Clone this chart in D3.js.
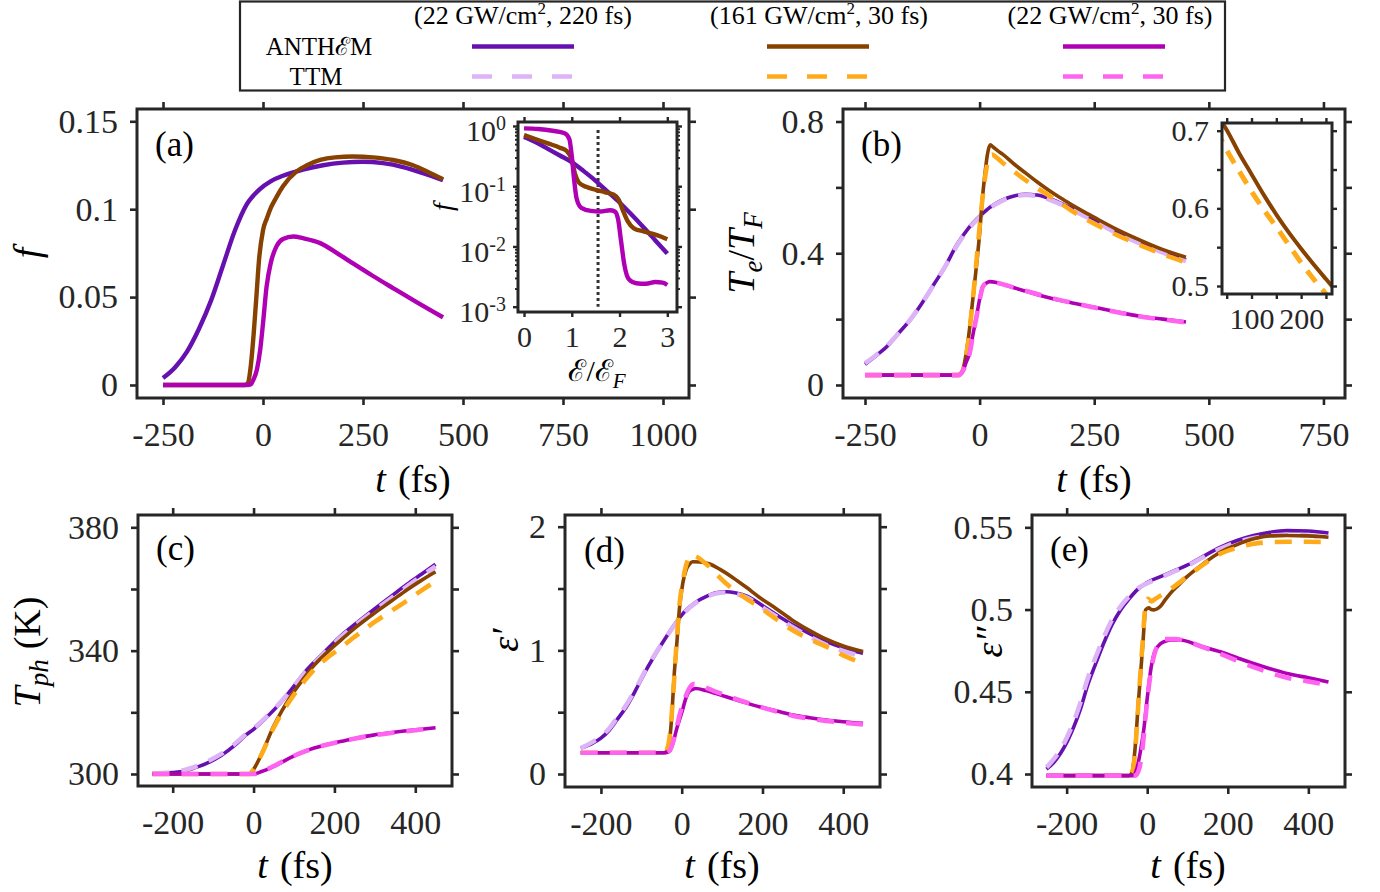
<!DOCTYPE html>
<html>
<head>
<meta charset="utf-8">
<script src="https://cdn.jsdelivr.net/npm/d3@7"></script>
<style>
  body { margin: 0; background: #fff; }
  svg { display: block; }
</style>
</head>
<body>
<script>
// ---------------- data ----------------
// pump cases: intensity (GW/cm^2) and pulse duration (fs)
const caseIntensity = ["22", "161", "22"];
const caseDuration = ["220", "30", "30"];
const modelNames = ["ANTH\u2130M", "TTM"];

// tick values
const tTicksTop = [-250, 0, 250, 500, 750, 1000];
const tTicksB = [-250, 0, 250, 500, 750];
const tTicksBottom = [-200, 0, 200, 400];
const fTicks = [0, 0.05, 0.1, 0.15];
const teTicks = [0, 0.2, 0.4, 0.6, 0.8];
const teLabels = [0, 0.4, 0.8];
const tphTicks = [300, 320, 340, 360, 380];
const tphLabels = [300, 340, 380];
const epsReTicks = [0, 0.5, 1, 1.5, 2];
const epsReLabels = [0, 1, 2];
const epsImTicks = [0.4, 0.45, 0.5, 0.55];
const energyTicks = [0, 1, 2, 3];
const distTicks = [1, 0.1, 0.01, 0.001];
const zoomTTicks = [50, 100, 150, 200, 250];
const zoomTLabels = [100, 200];
const zoomTeTicks = [0.5, 0.55, 0.6, 0.65, 0.7];
const zoomTeLabels = [0.5, 0.6, 0.7];
const fermiMarker = 1.55;

// (a) excited fraction f(t), ANTHEM only
const fA220 = [[-250,0.004],[-220,0.010],[-190,0.019],[-160,0.032],[-130,0.048],[-100,0.068],[-70,0.088],[-40,0.103],[-10,0.111],[20,0.116],[50,0.119],[100,0.1225],[150,0.125],[200,0.1265],[250,0.127],[300,0.1262],[350,0.124],[400,0.1205],[450,0.1165]];
const fA161 = [[-250,0],[-100,0],[-45,0],[-38,0.001],[-30,0.012],[-23,0.030],[-16,0.052],[-10,0.071],[0,0.088],[10,0.095],[20,0.101],[34,0.107],[50,0.113],[84,0.1215],[110,0.125],[143,0.128],[180,0.1295],[225,0.130],[275,0.1295],[325,0.128],[375,0.125],[410,0.1215],[450,0.117]];
const fA30 = [[-250,0],[-40,0],[-30,0.0005],[-24,0.003],[-15,0.009],[-7,0.020],[0,0.035],[9,0.056],[20,0.070],[34,0.079],[50,0.083],[76,0.0845],[100,0.0835],[143,0.0807],[185,0.075],[226,0.069],[275,0.062],[326,0.055],[385,0.047],[450,0.0385]];

// (a) inset: distribution f vs E/E_F
const distA220 = [[0,0.66],[0.25,0.537],[0.5,0.417],[0.75,0.324],[1,0.251],[1.25,0.178],[1.5,0.123],[1.75,0.0813],[2,0.0537],[2.25,0.0339],[2.5,0.0209],[2.75,0.0126],[3,0.0076]];
const distA161 = [[0,0.708],[0.25,0.603],[0.5,0.513],[0.75,0.437],[0.9,0.380],[1.0,0.275],[1.07,0.158],[1.15,0.115],[1.3,0.0977],[1.5,0.0871],[1.7,0.0794],[1.88,0.0724],[1.98,0.0603],[2.07,0.0398],[2.17,0.0263],[2.3,0.0200],[2.5,0.0178],[2.7,0.0162],[2.85,0.0148],[3,0.0132]];
const distA30 = [[0,0.912],[0.3,0.891],[0.6,0.832],[0.85,0.759],[0.95,0.603],[1.0,0.316],[1.05,0.126],[1.1,0.0631],[1.2,0.0437],[1.4,0.0389],[1.6,0.0380],[1.8,0.0398],[1.9,0.0380],[1.97,0.0282],[2.03,0.0126],[2.1,0.00501],[2.2,0.00282],[2.35,0.00245],[2.55,0.00240],[2.75,0.00257],[2.9,0.00251],[3,0.00229]];

// (b) electron temperature Te/TF
const teA220 = [[-250,0.063],[-225,0.09],[-200,0.12],[-175,0.16],[-150,0.20],[-125,0.25],[-100,0.305],[-75,0.36],[-50,0.425],[-25,0.475],[0,0.512],[25,0.542],[50,0.562],[75,0.574],[100,0.579],[125,0.577],[150,0.567],[175,0.553],[200,0.537],[250,0.503],[300,0.466],[350,0.435],[400,0.407],[450,0.38]];
const teT220 = [[-250,0.066],[-225,0.092],[-200,0.122],[-175,0.16],[-150,0.201],[-125,0.25],[-100,0.304],[-75,0.36],[-50,0.422],[-25,0.472],[0,0.51],[25,0.54],[50,0.56],[75,0.572],[100,0.577],[125,0.574],[150,0.564],[175,0.55],[200,0.533],[250,0.498],[300,0.461],[350,0.43],[400,0.402],[450,0.376]];
const teA161 = [[-250,0.03],[-50,0.03],[-40,0.035],[-30,0.09],[-22,0.17],[-15,0.258],[-7,0.36],[0,0.46],[5,0.55],[11,0.633],[17,0.70],[23,0.729],[30,0.722],[40,0.711],[50,0.701],[75,0.671],[100,0.644],[125,0.617],[150,0.592],[175,0.569],[200,0.548],[225,0.528],[250,0.509],[300,0.472],[350,0.44],[400,0.411],[450,0.388]];
const teT161 = [[-250,0.03],[-48,0.03],[-38,0.04],[-28,0.1],[-20,0.19],[-12,0.3],[-4,0.42],[5,0.55],[13,0.64],[20,0.69],[27,0.70],[35,0.693],[50,0.675],[75,0.648],[100,0.622],[125,0.598],[150,0.576],[175,0.553],[200,0.53],[225,0.509],[250,0.49],[300,0.455],[350,0.425],[400,0.397],[450,0.372]];
const teA30 = [[-250,0.03],[-45,0.03],[-36,0.045],[-29,0.07],[-22,0.096],[-15,0.15],[-7,0.207],[0,0.26],[7,0.30],[15,0.31],[22,0.314],[40,0.31],[75,0.295],[100,0.285],[160,0.262],[200,0.25],[250,0.236],[306,0.22],[350,0.209],[400,0.2],[450,0.191]];
const teT30 = [[-250,0.03],[-45,0.03],[-36,0.044],[-29,0.068],[-22,0.094],[-15,0.148],[-7,0.205],[0,0.258],[7,0.298],[15,0.31],[22,0.314],[40,0.31],[75,0.296],[100,0.286],[160,0.263],[200,0.25],[250,0.235],[306,0.219],[350,0.208],[400,0.199],[450,0.19]];

// (c) phonon temperature (K)
const tphA220 = [[-250,300.1],[-200,300.5],[-173,300.9],[-150,301.8],[-115,303.5],[-80,306],[-49,309],[-20,312.5],[0,314.5],[33,318.5],[66,323],[100,328.5],[132,333.8],[175,339.5],[214,344.6],[255,349],[296,353.2],[340,357.6],[379,361.5],[415,364.8],[450,368]];
const tphT220 = [[-250,300.1],[-200,300.6],[-173,301.2],[-150,302.1],[-115,304],[-80,306.5],[-49,309.5],[-20,312.8],[0,314.8],[33,318.7],[66,323.2],[100,328.5],[132,333.6],[175,339.2],[214,344.2],[255,348.6],[296,352.7],[340,357],[379,360.8],[415,364.2],[450,367.3]];
const tphA161 = [[-250,300],[-10,300],[0,301.5],[25,308],[49,315.3],[70,320.5],[91,325],[120,330.3],[148,335],[180,339.2],[214,343.2],[255,347.8],[296,351.9],[340,356],[379,359.7],[415,362.8],[450,365.6]];
const tphT161 = [[-250,300],[-10,300],[0,301.5],[25,307.8],[49,314.8],[70,319.8],[91,324],[120,329.2],[148,333.6],[180,337.5],[214,340.8],[255,345],[296,349],[340,352.8],[379,356.2],[415,359.5],[450,362.5]];
const tphA30 = [[-250,300],[0,300],[20,300.8],[49,302.4],[90,305.2],[132,307.6],[175,309.3],[214,310.5],[255,311.6],[296,312.6],[340,313.4],[379,314],[415,314.5],[450,315]];
const tphT30 = [[-250,300],[0,300],[20,300.8],[49,302.5],[90,305.3],[132,307.6],[175,309.3],[214,310.5],[255,311.6],[296,312.5],[340,313.3],[379,313.9],[415,314.4],[450,314.9]];

// (d) real part of permittivity
const epsReA220 = [[-250,0.21],[-220,0.25],[-200,0.29],[-179,0.356],[-160,0.44],[-137,0.544],[-112,0.69],[-88,0.841],[-63,0.98],[-38,1.11],[-13,1.23],[11,1.326],[35,1.39],[60,1.434],[85,1.465],[110,1.474],[135,1.463],[160,1.44],[185,1.395],[210,1.34],[243,1.27],[276,1.205],[317,1.135],[358,1.07],[400,1.02],[449,0.976]];
const epsReT220 = [[-250,0.21],[-220,0.26],[-200,0.305],[-179,0.37],[-160,0.455],[-137,0.56],[-112,0.70],[-88,0.85],[-63,0.985],[-38,1.11],[-13,1.225],[11,1.32],[35,1.385],[60,1.43],[85,1.46],[110,1.468],[135,1.455],[160,1.428],[185,1.38],[210,1.325],[243,1.255],[276,1.185],[317,1.11],[358,1.045],[400,0.995],[449,0.95]];
const epsReA161 = [[-250,0.172],[-45,0.172],[-38,0.18],[-30,0.275],[-24,0.5],[-19,0.786],[-12,1.06],[-6,1.326],[3,1.55],[11,1.65],[20,1.70],[27,1.717],[45,1.715],[68,1.70],[95,1.655],[126,1.59],[160,1.51],[192,1.43],[235,1.335],[276,1.24],[317,1.16],[358,1.09],[400,1.035],[449,0.99]];
const epsReT161 = [[-250,0.172],[-45,0.172],[-38,0.19],[-30,0.30],[-22,0.6],[-14,1.0],[-6,1.35],[5,1.6],[15,1.73],[23,1.77],[35,1.76],[60,1.70],[85,1.62],[110,1.54],[150,1.44],[192,1.35],[235,1.25],[276,1.16],[317,1.09],[358,1.03],[400,0.96],[449,0.895]];
const epsReA30 = [[-250,0.172],[-40,0.172],[-30,0.185],[-22,0.248],[-12,0.37],[2,0.517],[10,0.61],[18,0.665],[27,0.685],[35,0.692],[60,0.675],[85,0.65],[110,0.625],[150,0.585],[192,0.544],[235,0.51],[276,0.477],[317,0.455],[358,0.437],[400,0.423],[449,0.41]];
const epsReT30 = [[-250,0.172],[-40,0.172],[-28,0.2],[-18,0.3],[-5,0.48],[10,0.63],[20,0.70],[30,0.727],[45,0.715],[85,0.665],[110,0.635],[150,0.59],[192,0.545],[235,0.505],[276,0.47],[317,0.447],[358,0.43],[400,0.415],[449,0.40]];

// (e) imaginary part of permittivity
const epsImA220 = [[-250,0.403],[-232,0.407],[-215,0.4126],[-198,0.42],[-182,0.4288],[-165,0.44],[-149,0.4531],[-128,0.467],[-108,0.4795],[-87,0.491],[-66,0.4998],[-45,0.5065],[-25,0.512],[0,0.5165],[33,0.520],[66,0.5235],[99,0.527],[140,0.5325],[182,0.538],[223,0.542],[264,0.545],[305,0.547],[347,0.548],[400,0.5478],[450,0.5465]];
const epsImT220 = [[-250,0.404],[-232,0.409],[-215,0.415],[-198,0.423],[-182,0.432],[-165,0.444],[-149,0.457],[-128,0.471],[-108,0.483],[-87,0.494],[-66,0.502],[-45,0.508],[-25,0.5125],[0,0.516],[33,0.5195],[66,0.523],[99,0.5265],[140,0.532],[182,0.537],[223,0.541],[264,0.5435],[305,0.545],[347,0.5455],[400,0.545],[450,0.544]];
const epsImA161 = [[-250,0.399],[-45,0.399],[-38,0.401],[-29,0.4187],[-23,0.44],[-17,0.459],[-10,0.482],[-4,0.4998],[4,0.501],[10,0.5],[16,0.4998],[25,0.5005],[33,0.502],[45,0.506],[58,0.510],[78,0.515],[99,0.520],[140,0.528],[182,0.535],[223,0.5395],[264,0.543],[305,0.5448],[347,0.545],[400,0.5448],[450,0.544]];
const epsImT161 = [[-250,0.399],[-45,0.399],[-36,0.402],[-28,0.42],[-20,0.45],[-12,0.478],[-4,0.503],[2,0.5065],[10,0.505],[20,0.5065],[33,0.5085],[58,0.5125],[99,0.520],[140,0.5275],[182,0.534],[223,0.5375],[264,0.54],[305,0.541],[347,0.5412],[400,0.5412],[450,0.541]];
const epsImA30 = [[-250,0.399],[-35,0.399],[-25,0.404],[-17,0.4135],[-8,0.428],[0,0.4459],[8,0.462],[16,0.4723],[28,0.478],[41,0.4804],[60,0.4815],[82,0.4815],[130,0.478],[182,0.4743],[223,0.4707],[264,0.4672],[305,0.464],[347,0.4611],[400,0.4585],[450,0.456]];
const epsImT30 = [[-250,0.399],[-30,0.399],[-20,0.403],[-12,0.415],[-4,0.435],[5,0.455],[15,0.47],[28,0.479],[45,0.482],[70,0.482],[100,0.4805],[140,0.477],[182,0.473],[223,0.469],[264,0.465],[305,0.4615],[347,0.4585],[400,0.4563],[450,0.454]];

// ---------------- styling ----------------
const FONT = "'Liberation Serif', 'Times New Roman', 'DejaVu Serif', serif";
const INK = "#262626";
const COLOR = {
  A220: "#6610b0", T220: "#ddb4f7",
  A161: "#874100", T161: "#ffab19",
  A30:  "#b000b4", T30:  "#ff64f0"
};
const SOLID_W = 3.6, DASH_W = 4.6, DASH = "17,12";

const svg = d3.select("body").append("svg")
  .attr("width", 1380).attr("height", 892)
  .style("background", "#fff");

let clipCount = 0;
function clipFor(box) {
  const id = "clip" + (clipCount++);
  svg.append("clipPath").attr("id", id).append("rect")
    .attr("x", box[0]).attr("y", box[1])
    .attr("width", box[2] - box[0]).attr("height", box[3] - box[1]);
  return "url(#" + id + ")";
}

// box axes with outward ticks on all four sides
function drawAxes(box, x, y, o) {
  const [x0, y0, x1, y1] = box;
  const g = svg.append("g");
  const fmt = o.fmt || (v => String(v));
  function mk(axis, tr, ticks, labels, pad) {
    axis.tickValues(ticks).tickSize(o.tick).tickSizeOuter(0).tickPadding(pad)
      .tickFormat(v => labels.includes(v) ? fmt(v) : "");
    const ax = g.append("g").attr("transform", tr).call(axis);
    ax.attr("font-family", null).attr("font-size", null);
    ax.select(".domain").remove();
    ax.selectAll("line").attr("stroke", INK).attr("stroke-width", o.tw);
    ax.selectAll("text").attr("fill", INK)
      .style("font-family", FONT).style("font-size", o.fs + "px");
    return ax;
  }
  const bx = mk(d3.axisBottom(x), `translate(0,${y1})`, o.xTicks, o.xLabels, o.xPad);
  mk(d3.axisTop(x), `translate(0,${y0})`, o.xTicks, [], o.xPad);
  const ly = mk(d3.axisLeft(y), `translate(${x0},0)`, o.yTicks, o.yLabels, o.yPad);
  mk(d3.axisRight(y), `translate(${x1},0)`, o.yTicks, [], o.yPad);
  if (o.minorY) {
    [[d3.axisLeft, x0], [d3.axisRight, x1]].forEach(([fn, px]) => {
      const m = fn(y).tickValues(o.minorY).tickSize(o.minorSize).tickFormat("");
      const mg = g.append("g").attr("transform", `translate(${px},0)`).call(m);
      mg.select(".domain").remove();
      mg.selectAll("line").attr("stroke", INK).attr("stroke-width", o.tw * 0.8);
    });
  }
  g.append("rect").attr("x", x0).attr("y", y0)
    .attr("width", x1 - x0).attr("height", y1 - y0)
    .attr("fill", "none").attr("stroke", INK).attr("stroke-width", o.fw);
  return { bottom: bx, left: ly };
}

function drawSeries(list, x, y, clip, wSolid, wDash, dash) {
  const line = d3.line().x(d => x(d[0])).y(d => y(d[1])).curve(d3.curveMonotoneX);
  const g = svg.append("g").attr("clip-path", clip);
  list.forEach(([key, data]) => {
    const dashed = key.startsWith("T");
    g.append("path").datum(data)
      .attr("d", line)
      .attr("fill", "none")
      .attr("stroke", COLOR[key])
      .attr("stroke-width", dashed ? wDash : wSolid)
      .attr("stroke-dasharray", dashed ? dash : null)
      .attr("stroke-linejoin", "round");
  });
}

function tag(text, xPos, yPos) {
  svg.append("text").attr("x", xPos).attr("y", yPos)
    .style("font-family", FONT).style("font-size", "35px").attr("fill", "#000")
    .text(text);
}

function timeLabel(cx, baseline) {
  const t = svg.append("text").attr("x", cx).attr("y", baseline)
    .attr("text-anchor", "middle").style("font-family", FONT)
    .style("font-size", "38px").attr("fill", "#000");
  t.append("tspan").style("font-style", "italic").text("t");
  t.append("tspan").attr("dx", 12).text("(fs)");
}

function yTitle(cx, cy) {
  return svg.append("text")
    .attr("transform", `translate(${cx},${cy}) rotate(-90)`)
    .attr("text-anchor", "middle").style("font-family", FONT)
    .style("font-size", "38px").attr("fill", "#000");
}

const mainAxisOpts = { tick: 7, xPad: 17, yPad: 12, tw: 2.6, fw: 3, fs: 34 };

// ---------------- (a) ----------------
{
  const box = [137, 109, 689, 398];
  const x = d3.scaleLinear().domain([-315, 1065]).range([box[0], box[2]]);
  const y = d3.scaleLinear().domain([-0.0074, 0.157]).range([box[3], box[1]]);
  drawSeries([["A220", fA220], ["A161", fA161], ["A30", fA30]], x, y, clipFor(box), 4.4, 4.4, DASH);
  drawAxes(box, x, y, Object.assign({}, mainAxisOpts,
    { xTicks: tTicksTop, xLabels: tTicksTop, yTicks: fTicks, yLabels: fTicks }));
  tag("(a)", 155, 156);
  timeLabel(413, 492);
  yTitle(40, 253).style("font-style", "italic").text("f");

  // inset: energy distribution on a log axis
  const ib = [518, 122, 677, 312];
  const ix = d3.scaleLinear().domain([-0.126, 3.203]).range([ib[0], ib[2]]);
  const iy = d3.scaleLog().domain([Math.pow(10, -3.088), Math.pow(10, 0.066)]).range([ib[3], ib[1]]);
  svg.append("rect").attr("x", ib[0]).attr("y", ib[1]).attr("width", ib[2] - ib[0])
    .attr("height", ib[3] - ib[1]).attr("fill", "#fff");
  svg.append("line").attr("x1", ix(fermiMarker)).attr("x2", ix(fermiMarker))
    .attr("y1", iy(0.86)).attr("y2", iy(0.001))
    .attr("stroke", "#333").attr("stroke-width", 3).attr("stroke-dasharray", "3,3");
  drawSeries([["A220", distA220], ["A161", distA161], ["A30", distA30]], ix, iy, clipFor(ib), 4.4, 4.4, DASH);
  const minor = [];
  [0.001, 0.01, 0.1].forEach(d => { for (let k = 2; k <= 9; k++) minor.push(d * k); });
  const ax = drawAxes(ib, ix, iy, { tick: 5, xPad: 7, yPad: 7, tw: 2.4, fw: 3, fs: 30,
    xTicks: energyTicks, xLabels: energyTicks, yTicks: distTicks, yLabels: distTicks,
    minorY: minor, minorSize: 3,
    fmt: v => v });
  ax.bottom.selectAll("text").attr("y", 14);
  ax.left.selectAll("text").each(function (d) {
    const t = d3.select(this);
    t.text(null).attr("dy", "0.5em");
    t.append("tspan").text("10");
    t.append("tspan").attr("dy", "-0.55em").style("font-size", "20px")
      .text(String(Math.round(Math.log10(d))));
  });
  const il = svg.append("text").attr("x", 597).attr("y", 381).attr("text-anchor", "middle")
    .style("font-family", FONT).style("font-size", "30px").attr("fill", "#000");
  il.append("tspan").text("\u2130/\u2130");
  il.append("tspan").attr("dy", 7).style("font-size", "21px").style("font-style", "italic").text("F");
  svg.append("text").attr("transform", "translate(452,207) rotate(-90)")
    .attr("text-anchor", "middle").style("font-family", FONT).style("font-size", "28px")
    .style("font-style", "italic").attr("fill", "#000").text("f");
}

// ---------------- (b) ----------------
{
  const box = [843, 109, 1345, 398];
  const x = d3.scaleLinear().domain([-298, 797]).range([box[0], box[2]]);
  const y = d3.scaleLinear().domain([-0.0395, 0.838]).range([box[3], box[1]]);
  const series = [["A220", teA220], ["T220", teT220], ["A161", teA161], ["T161", teT161], ["A30", teA30], ["T30", teT30]];
  drawSeries(series, x, y, clipFor(box), SOLID_W, DASH_W, DASH);
  drawAxes(box, x, y, Object.assign({}, mainAxisOpts,
    { xTicks: tTicksB, xLabels: tTicksB, yTicks: teTicks, yLabels: teLabels }));
  tag("(b)", 861, 156);
  timeLabel(1094, 492);
  const yt = yTitle(754, 253);
  yt.append("tspan").style("font-style", "italic").text("T");
  yt.append("tspan").attr("dy", 8).style("font-size", "27px").style("font-style", "italic").text("e");
  yt.append("tspan").attr("dy", -8).text("/");
  yt.append("tspan").style("font-style", "italic").text("T");
  yt.append("tspan").attr("dy", 8).style("font-size", "27px").style("font-style", "italic").text("F");

  // inset: zoom on the 161 GW/cm^2 decay
  const ib = [1222, 123, 1332, 294];
  const ix = d3.scaleLinear().domain([40.5, 262.2]).range([ib[0], ib[2]]);
  const iy = d3.scaleLinear().domain([0.4897, 0.7099]).range([ib[3], ib[1]]);
  svg.append("rect").attr("x", ib[0]).attr("y", ib[1]).attr("width", ib[2] - ib[0])
    .attr("height", ib[3] - ib[1]).attr("fill", "#fff");
  drawSeries([["A161", teA161], ["T161", teT161]], ix, iy, clipFor(ib), 4, 5, "14,10");
  const ax = drawAxes(ib, ix, iy, { tick: 5, xPad: 8, yPad: 8, tw: 2.4, fw: 3, fs: 30,
    xTicks: zoomTTicks, xLabels: zoomTLabels, yTicks: zoomTeTicks, yLabels: zoomTeLabels });
  ax.bottom.selectAll("text").attr("y", 14);
}

// ---------------- (c) ----------------
{
  const box = [138, 515, 452, 786];
  const x = d3.scaleLinear().domain([-285.8, 490.8]).range([box[0], box[2]]);
  const y = d3.scaleLinear().domain([296.1, 384]).range([box[3], box[1]]);
  const series = [["A220", tphA220], ["T220", tphT220], ["A161", tphA161], ["T161", tphT161], ["A30", tphA30], ["T30", tphT30]];
  drawSeries(series, x, y, clipFor(box), SOLID_W, DASH_W, DASH);
  drawAxes(box, x, y, Object.assign({}, mainAxisOpts,
    { xTicks: tTicksBottom, xLabels: tTicksBottom, yTicks: tphTicks, yLabels: tphLabels }));
  tag("(c)", 156, 560);
  timeLabel(295, 878);
  const yt = yTitle(40, 652);
  yt.append("tspan").style("font-style", "italic").text("T");
  yt.append("tspan").attr("dy", 8).style("font-size", "27px").style("font-style", "italic").text("ph");
  yt.append("tspan").attr("dy", -8).attr("dx", 10).text("(K)");
}

// ---------------- (d) ----------------
{
  const box = [565, 515, 880, 787];
  const x = d3.scaleLinear().domain([-289, 491]).range([box[0], box[2]]);
  const y = d3.scaleLinear().domain([-0.105, 2.0946]).range([box[3], box[1]]);
  const series = [["A220", epsReA220], ["T220", epsReT220], ["A161", epsReA161], ["T161", epsReT161], ["A30", epsReA30], ["T30", epsReT30]];
  drawSeries(series, x, y, clipFor(box), SOLID_W, DASH_W, DASH);
  drawAxes(box, x, y, Object.assign({}, mainAxisOpts,
    { xTicks: tTicksBottom, xLabels: tTicksBottom, yTicks: epsReTicks, yLabels: epsReLabels }));
  tag("(d)", 584, 562);
  timeLabel(722, 878);
  yTitle(518, 640).style("font-style", "italic").text("\u03b5\u2032");
}

// ---------------- (e) ----------------
{
  const box = [1032, 515, 1345, 787];
  const x = d3.scaleLinear().domain([-286, 491]).range([box[0], box[2]]);
  const y = d3.scaleLinear().domain([0.3921, 0.5575]).range([box[3], box[1]]);
  const series = [["A220", epsImA220], ["T220", epsImT220], ["A161", epsImA161], ["T161", epsImT161], ["A30", epsImA30], ["T30", epsImT30]];
  drawSeries(series, x, y, clipFor(box), SOLID_W, DASH_W, DASH);
  drawAxes(box, x, y, Object.assign({}, mainAxisOpts,
    { xTicks: tTicksBottom, xLabels: tTicksBottom, yTicks: epsImTicks, yLabels: epsImTicks }));
  tag("(e)", 1050, 561);
  timeLabel(1188, 878);
  yTitle(1002, 642).style("font-style", "italic").text("\u03b5\u2033");
}

// ---------------- legend ----------------
{
  svg.append("rect").attr("x", 240).attr("y", 1.5).attr("width", 985).attr("height", 89)
    .attr("fill", "#fff").attr("stroke", INK).attr("stroke-width", 2.2);
  const cols = [523, 819, 1110];
  const keys = [["A220", "T220"], ["A161", "T161"], ["A30", "T30"]];
  const lineCx = [523, 818, 1114];
  cols.forEach((cx, i) => {
    const t = svg.append("text").attr("x", cx).attr("y", 24).attr("text-anchor", "middle")
      .style("font-family", FONT).style("font-size", "26px").attr("fill", "#000");
    t.append("tspan").text(`(${caseIntensity[i]} GW/cm`);
    t.append("tspan").attr("dy", -10).style("font-size", "17px").text("2");
    t.append("tspan").attr("dy", 10).text(`, ${caseDuration[i]} fs)`);
    [46.5, 76.5].forEach((ly, j) => {
      svg.append("line").attr("x1", lineCx[i] - 51).attr("x2", lineCx[i] + 51).attr("y1", ly).attr("y2", ly)
        .attr("stroke", COLOR[keys[i][j]]).attr("stroke-width", 4.5)
        .attr("stroke-dasharray", j ? "20,20" : null);
    });
  });
  svg.append("text").attr("x", 319).attr("y", 55).attr("text-anchor", "middle")
    .style("font-family", FONT).style("font-size", "25px").attr("fill", "#000").text(modelNames[0]);
  svg.append("text").attr("x", 316).attr("y", 85).attr("text-anchor", "middle")
    .style("font-family", FONT).style("font-size", "25px").attr("fill", "#000").text(modelNames[1]);
}
</script>
</body>
</html>
